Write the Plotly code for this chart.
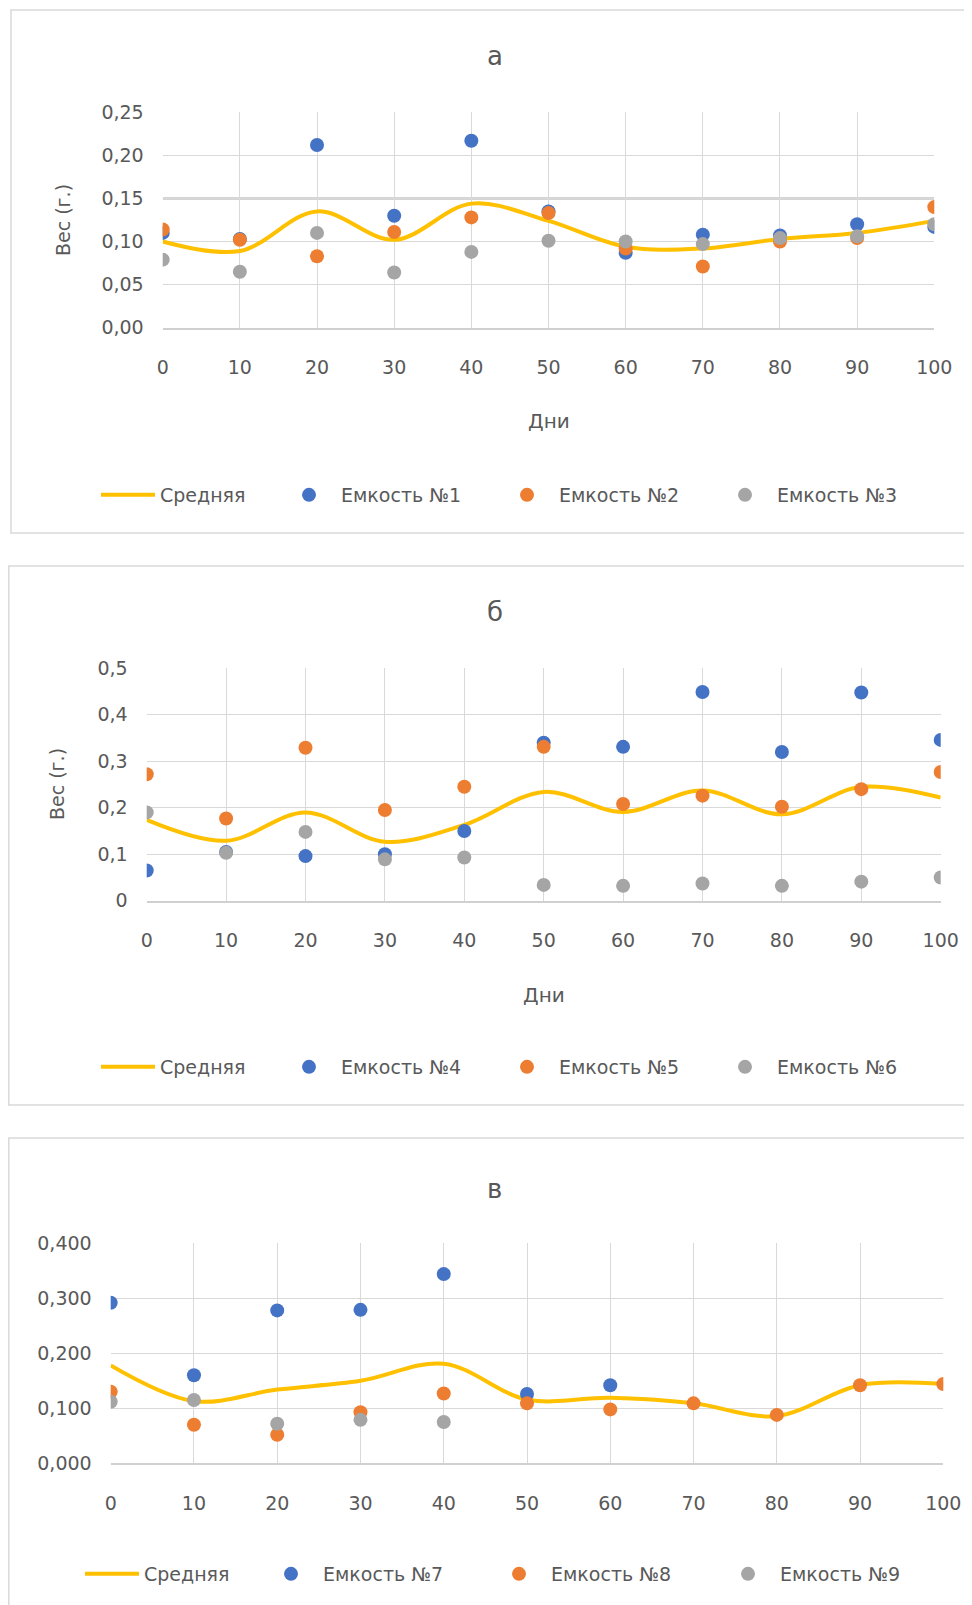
import plotly.graph_objects as go

W, H = 972, 1605
OFF = 8  # page body margin of the html page

# ---------------- data ----------------
days = [0, 10, 20, 30, 40, 50, 60, 70, 80, 90, 100]
x_ticktext = ["0", "10", "20", "30", "40", "50", "60", "70", "80", "90", "100"]

# panel а
a_mean = [0.100, 0.089, 0.135, 0.102, 0.144, 0.124, 0.094, 0.092, 0.103, 0.110, 0.124]
a_t1 = [0.110, 0.103, 0.212, 0.130, 0.217, 0.135, 0.087, 0.108, 0.107, 0.120, 0.117]
a_t2 = [0.114, 0.102, 0.083, 0.111, 0.128, 0.133, 0.092, 0.071, 0.100, 0.104, 0.140]
a_t3 = [0.079, 0.065, 0.110, 0.064, 0.088, 0.101, 0.100, 0.097, 0.104, 0.106, 0.120]
a_yticks = [0, 0.05, 0.10, 0.15, 0.20, 0.25]
a_yticktext = ["0,00", "0,05", "0,10", "0,15", "0,20", "0,25"]

# panel б
b_mean = [0.174, 0.129, 0.190, 0.127, 0.163, 0.234, 0.191, 0.237, 0.186, 0.245, 0.222]
b_t4 = [0.065, 0.105, 0.096, 0.100, 0.150, 0.340, 0.331, 0.449, 0.320, 0.448, 0.346]
b_t5 = [0.272, 0.177, 0.329, 0.195, 0.245, 0.331, 0.208, 0.226, 0.202, 0.240, 0.277]
b_t6 = [0.190, 0.103, 0.148, 0.089, 0.093, 0.034, 0.032, 0.037, 0.032, 0.041, 0.050]
b_yticks = [0, 0.1, 0.2, 0.3, 0.4, 0.5]
b_yticktext = ["0", "0,1", "0,2", "0,3", "0,4", "0,5"]

# panel в
c_mean = [0.178, 0.113, 0.134, 0.150, 0.181, 0.116, 0.119, 0.109, 0.086, 0.142, 0.144]
c_t7 = [0.292, 0.160, 0.278, 0.279, 0.344, 0.126, 0.142, None, None, None, None]
c_t8 = [0.130, 0.070, 0.052, 0.093, 0.127, 0.109, 0.098, 0.109, 0.088, 0.142, 0.144]
c_t9 = [0.112, 0.115, 0.072, 0.079, 0.075, None, None, None, None, None, None]
c_yticks = [0, 0.1, 0.2, 0.3, 0.4]
c_yticktext = ["0,000", "0,100", "0,200", "0,300", "0,400"]

panel_titles = ["а", "б", "в"]
mean_name = "Средняя"
tank_names = [["Емкость №1", "Емкость №2", "Емкость №3"],
              ["Емкость №4", "Емкость №5", "Емкость №6"],
              ["Емкость №7", "Емкость №8", "Емкость №9"]]

# ---------------- style ----------------
FONT = "DejaVu Sans"
TXT = "#595959"
GRID = "#D9D9D9"
C_MEAN = "#FFC000"
C_TANK = ["#4472C4", "#ED7D31", "#A5A5A5"]


def px(x):
    return (x - OFF) / W


def py(y):
    return 1 - (y - OFF) / H


# plot areas in page pixels: (left, right, top, bottom)
areas = [(162.7, 934.3, 112.3, 327.7),
         (146.7, 940.7, 668.3, 900.7),
         (110.7, 943.3, 1243.3, 1463.3)]
yranges = [[0, 0.25], [0, 0.5], [0, 0.4]]
yticks = [(a_yticks, a_yticktext), (b_yticks, b_yticktext), (c_yticks, c_yticktext)]
series = [(a_mean, a_t1, a_t2, a_t3), (b_mean, b_t4, b_t5, b_t6), (c_mean, c_t7, c_t8, c_t9)]
# legend: y centre and text starts (px)
legend_y = [495, 1067, 1574]
legend_text_x = [[160, 341, 559, 777], [160, 341, 559, 777], [144, 323, 551, 780]]

fig = go.Figure()
layout = dict(
    width=W, height=H,
    margin=dict(l=0, r=0, t=0, b=0, autoexpand=False),
    paper_bgcolor="white", plot_bgcolor="white",
    font=dict(family=FONT, color=TXT, size=18),
    showlegend=True,
)
annotations = []
shapes = []

ITEMW = 54
leg_idx = 0
for p in range(3):
    xa = "x" if p == 0 else f"x{p+1}"
    ya = "y" if p == 0 else f"y{p+1}"
    xkey = "xaxis" if p == 0 else f"xaxis{p+1}"
    ykey = "yaxis" if p == 0 else f"yaxis{p+1}"
    l, r, t, b = areas[p]
    mean, s1, s2, s3 = series[p]

    traces = [(mean, mean_name, "line")] + [(s, tank_names[p][i], i) for i, s in enumerate([s1, s2, s3])]
    for k, (vals, name, kind) in enumerate(traces):
        leg_idx += 1
        lname = "legend" if leg_idx == 1 else f"legend{leg_idx}"
        if kind == "line":
            tr = go.Scatter(x=days, y=vals, name=name, mode="lines",
                            line=dict(color=C_MEAN, width=4, shape="spline", smoothing=1.0),
                            xaxis=xa, yaxis=ya, legend=lname)
        else:
            tr = go.Scatter(x=days, y=vals, name=name, mode="markers",
                            marker=dict(color=C_TANK[kind], size=14, line=dict(width=0)),
                            xaxis=xa, yaxis=ya, legend=lname)
        fig.add_trace(tr)
        tx = legend_text_x[p][k]
        layout[lname] = dict(
            x=px(tx - ITEMW - 10), y=py(legend_y[p]), xanchor="left", yanchor="middle",
            orientation="h", itemwidth=ITEMW, bgcolor="rgba(0,0,0,0)",
            borderwidth=0, font=dict(family=FONT, size=19, color=TXT),
            tracegroupgap=0, itemclick=False, itemdoubleclick=False,
        )

    layout[xkey] = dict(
        domain=[px(l), px(r)], range=[0, 100], anchor=ya, automargin=False,
        tickmode="array", tickvals=days, ticktext=x_ticktext,
        showgrid=True, gridcolor=GRID, gridwidth=1, zeroline=False,
        showline=True, linecolor="#D0D0D0", linewidth=1.5,
        ticks="", ticklabelstandoff=22, tickfont=dict(size=19, color=TXT),
        fixedrange=True,
    )
    layout[ykey] = dict(
        domain=[py(b), py(t)], range=yranges[p], anchor=xa, automargin=False,
        tickmode="array", tickvals=yticks[p][0], ticktext=yticks[p][1],
        showgrid=True, gridcolor=GRID, gridwidth=1, zeroline=False,
        showline=False, ticks="", ticklabelstandoff=18,
        tickfont=dict(size=19, color=TXT), fixedrange=True,
    )

# thicker grid line seen at 0,15 in panel а
shapes.append(dict(type="line", xref="x", yref="y", x0=0, x1=100, y0=0.15, y1=0.15,
                   line=dict(color="#D4D4D4", width=3), layer="below"))

# panel borders (left edges cannot go past the page margin)
boxes = [(11, 10, 990, 533), (8.8, 566, 990, 1105), (8.8, 1138, 990, 1640)]
for (x0, y0, x1, y1) in boxes:
    shapes.append(dict(type="rect", xref="paper", yref="paper",
                       x0=px(x0), x1=px(x1), y0=py(y1), y1=py(y0),
                       line=dict(color="#D9D9D9", width=1.5), fillcolor="rgba(0,0,0,0)", layer="below"))

# titles
title_y = [56, 612, 1189]
for p in range(3):
    annotations.append(dict(text=panel_titles[p], x=px(495), y=py(title_y[p]), xref="paper", yref="paper",
                            showarrow=False, xanchor="center", yanchor="middle",
                            font=dict(family=FONT, size=26, color=TXT)))

# axis titles (panels а and б)
ytitle_pos = [(63, 220), (57, 784)]
xtitle_pos = [(548.5, 421), (543.7, 994.5)]
for (x, y) in ytitle_pos:
    annotations.append(dict(text="Вес (г.)", x=px(x), y=py(y), xref="paper", yref="paper",
                            showarrow=False, textangle=-90, xanchor="center", yanchor="middle",
                            font=dict(family=FONT, size=19, color=TXT)))
for (x, y) in xtitle_pos:
    annotations.append(dict(text="Дни", x=px(x), y=py(y), xref="paper", yref="paper",
                            showarrow=False, xanchor="center", yanchor="middle",
                            font=dict(family=FONT, size=20, color=TXT)))

layout["annotations"] = annotations
layout["shapes"] = shapes
fig.update_layout(**layout)
fig.write_html("out.html")
